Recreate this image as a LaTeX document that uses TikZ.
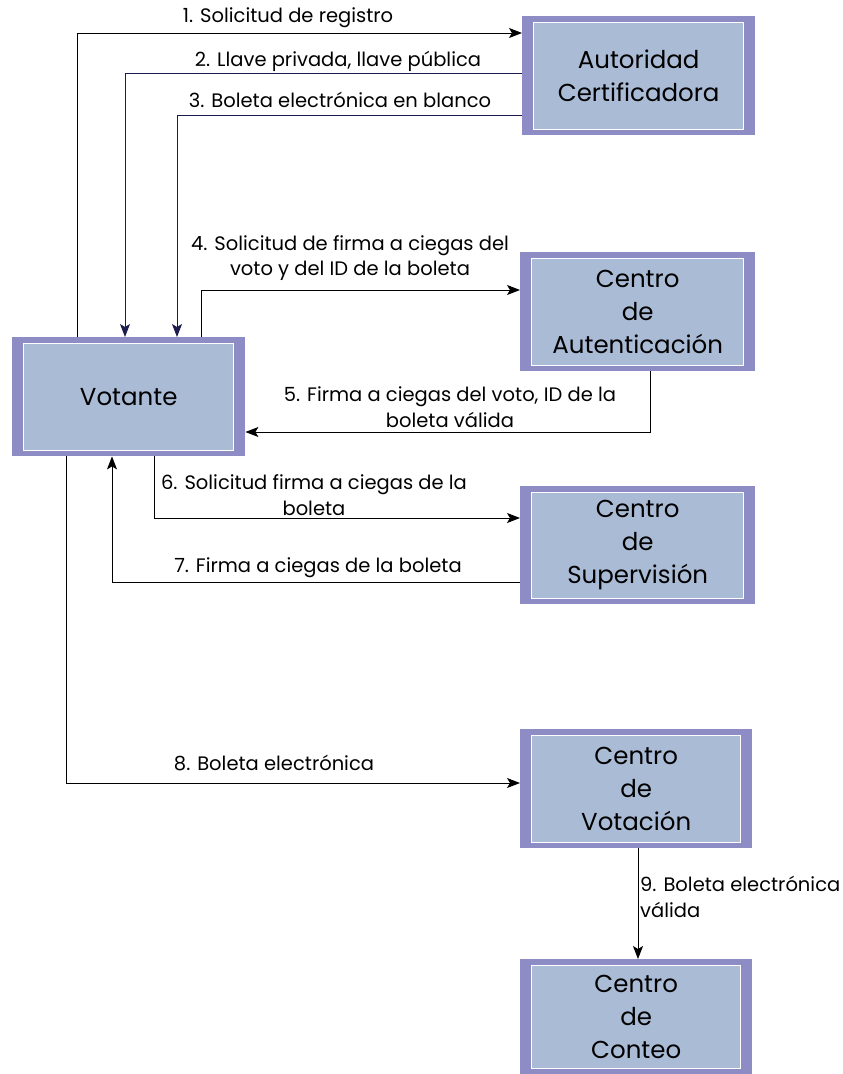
\documentclass[tikz,border=0pt]{standalone}
\usepackage{fontspec}
\setmainfont{Poppins}
\usetikzlibrary{arrows.meta,calc}

\definecolor{boxouter}{HTML}{8E8CC4}
\definecolor{boxinner}{HTML}{AABBD6}
\definecolor{navyline}{HTML}{1C1C4E}

\tikzset{
  outerbox/.style={draw=none, fill=boxouter, anchor=north west, inner sep=0pt},
  innerbox/.style={fill=boxinner, draw=white, line width=0.8pt},
  boxtext/.style={font=\fontsize{24.5}{33}\selectfont, align=center, text=black},
  lbl/.style={font=\fontsize{19.5}{25.5}\selectfont, align=center, text=black, inner sep=0pt},
  arr/.style={-{Stealth[length=13pt,width=10pt,inset=3pt]}, line width=1pt, black},
  navyarr/.style={arr, draw=navyline},
}

% unit box: name, left x, top y, width, height, text
\newcommand\unitbox[6]{%
  \node[outerbox, minimum width=#4pt, minimum height=#5pt] (#1) at (#2,#3) {};
  \path[innerbox] ($(#1.north west)+(11,6)$) rectangle ($(#1.south east)+(-12,-6)$);
  \node[boxtext] (#1-t) at (#1.center) {#6};
}

\begin{document}
\begin{tikzpicture}[x=1pt, y=-1pt]
\useasboundingbox (0,0) rectangle (843,1074);

\unitbox{ac}{522}{16}{233}{119}{Autoridad\\Certificadora}
\unitbox{cau}{520}{252}{235}{119}{Centro\\de\\Autenticación}
\unitbox{vot}{12}{337}{233}{119}{Votante}
\unitbox{sup}{520}{486}{235}{118}{Centro\\de\\Supervisión}
\unitbox{vtc}{520}{729}{232}{119}{Centro\\de\\Votación}
\unitbox{con}{520}{959}{232}{115}{Centro\\de\\Conteo}

% 1: registration request
\draw[arr] ($(vot.north west)+(65,0)$) |- ($(ac.north west)+(0,17)$);
\node[lbl] (l1) at (288,18) {1. Solicitud de registro};

% 2 and 3: keys and blank ballot back to the voter
\draw[navyarr] ($(ac.north west)+(0,57)$) -| ($(vot.north west)+(113,0)$);
\node[lbl] (l2) at (338,61) {2. Llave privada, llave pública};
\draw[navyarr] ($(ac.north west)+(0,99)$) -| ($(vot.north west)+(165,0)$);
\node[lbl] (l3) at (340,100) {3. Boleta electrónica en blanco};

% 4: blind signature request
\draw[arr] ($(vot.north west)+(189,0)$) |- ($(cau.north west)+(0,38)$);
\node[lbl] (l4) at (350,258) {4. Solicitud de firma a ciegas del\\voto y del ID de la boleta};

% 5: blind signature returned
\draw[arr] ($(cau.south west)+(130,0)$) |- ($(vot.north east)+(0,95)$);
\node[lbl] (l5) at (450,407) {5. Firma a ciegas del voto, ID de la\\boleta válida};

% 6: ballot signature request
\draw[arr] ($(vot.south west)+(142,0)$) |- ($(sup.north west)+(0,32)$);
\node[lbl] (l6) at (314,495) {6. Solicitud firma a ciegas de la\\boleta};

% 7: ballot signature returned
\draw[arr] ($(sup.north west)+(0,96)$) -| ($(vot.south west)+(100,0)$);
\node[lbl] (l7) at (318,568) {7. Firma a ciegas de la boleta};

% 8: ballot cast
\draw[arr] ($(vot.south west)+(54,0)$) |- ($(vtc.north west)+(0,54)$);
\node[lbl] (l8) at (274,763) {8. Boleta electrónica};

% 9: valid ballot to counting
\draw[arr] ($(vtc.south west)+(118,0)$) -- ($(con.north west)+(118,0)$);
\node[lbl, align=left, anchor=west] (l9) at (640,897) {9. Boleta electrónica\\válida};

\end{tikzpicture}
\end{document}
